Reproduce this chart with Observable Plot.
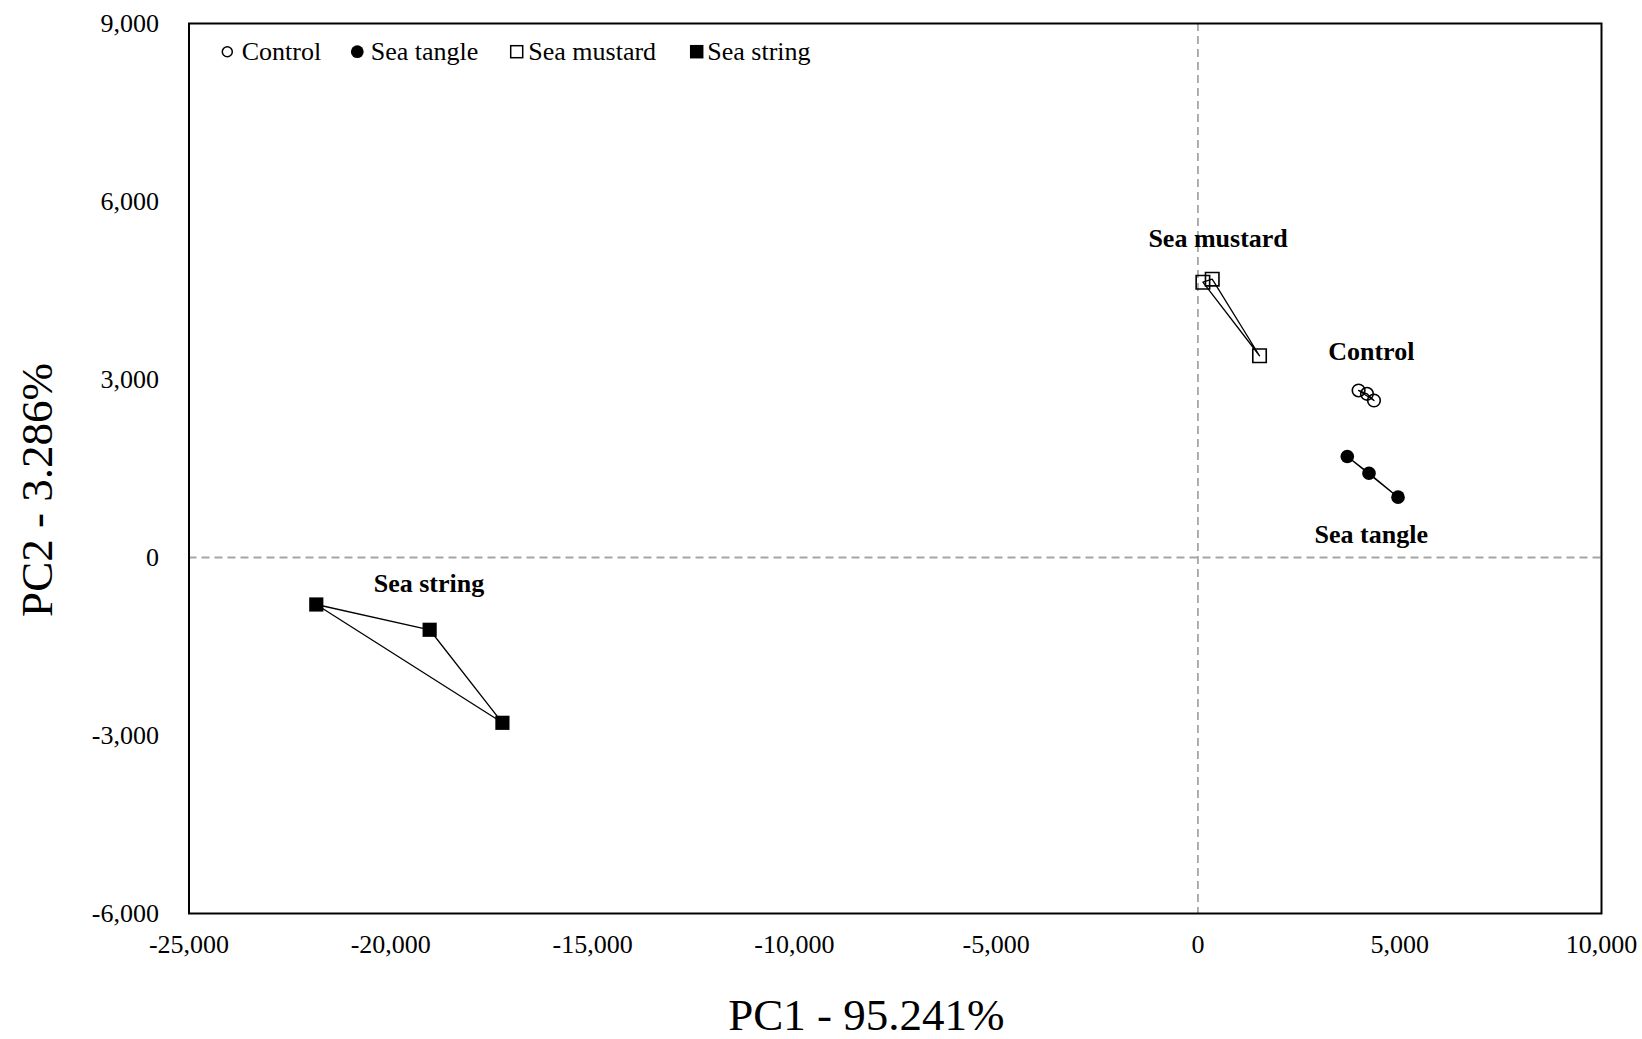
<!DOCTYPE html>
<html><head><meta charset="utf-8">
<script src="https://cdn.jsdelivr.net/npm/d3@7"></script>
<script src="https://cdn.jsdelivr.net/npm/@observablehq/plot@0.6"></script>
<style>
body{margin:0;background:#fff;}
#wrap{width:1642px;height:1039px;}
</style></head>
<body><div id="wrap"></div>
<script>
const groups = ["Control", "Sea tangle", "Sea mustard", "Sea string"];
const controlX = [3981, 4189, 4362];
const controlY = [2815, 2759, 2646];
const tangleX = [3701, 4239, 4958];
const tangleY = [1703, 1421, 1017];
const mustardX = [123, 354, 1526];
const mustardY = [4640, 4691, 3400];
const stringX = [-21846, -19037, -17234];
const stringY = [-792, -1218, -2786];
const labelX = [4296, 4296, 500, -19054];
const labelY = [3477, 388, 5377, -440];
const xTicks = [-25000, -20000, -15000, -10000, -5000, 0, 5000, 10000];
const xTickLabels = ["-25,000", "-20,000", "-15,000", "-10,000", "-5,000", "0", "5,000", "10,000"];
const yTicks = [-6000, -3000, 0, 3000, 6000, 9000];
const yTickLabels = ["-6,000", "-3,000", "0", "3,000", "6,000", "9,000"];
const xTitle = "PC1 - 95.241%";
const yTitle = "PC2 - 3.286%";

const series = [
  {name: groups[0], xs: controlX, ys: controlY, symbol: "circle", filled: false},
  {name: groups[1], xs: tangleX, ys: tangleY, symbol: "circle", filled: true},
  {name: groups[2], xs: mustardX, ys: mustardY, symbol: "square", filled: false},
  {name: groups[3], xs: stringX, ys: stringY, symbol: "square", filled: true}
];
const points = series.flatMap(s => s.xs.map((x, i) => ({group: s.name, x, y: s.ys[i]})));

const font = "'Liberation Serif', 'Times New Roman', serif";

const dotMarks = series.map(s => Plot.dot(points.filter(p => p.group === s.name), {
  x: "x", y: "y", symbol: s.symbol,
  r: s.symbol === "square" ? (s.filled ? 8.0 : 7.6) : (s.filled ? 6.8 : 6.3),
  fill: s.filled ? "black" : "none",
  stroke: "black", strokeWidth: s.filled ? 0 : 1.6
}));

const chart = Plot.plot({
  width: 1642, height: 1039,
  marginLeft: 188.5, marginRight: 41, marginTop: 23, marginBottom: 126,
  style: {fontFamily: font, fontSize: "26px", color: "black", background: "white"},
  x: {domain: [-25000, 10000]},
  y: {domain: [-6000, 9000]},
  marks: [
    Plot.ruleX([0], {stroke: "#a6a6a6", strokeWidth: 1.8, strokeDasharray: "8,5"}),
    Plot.ruleY([0], {stroke: "#a6a6a6", strokeWidth: 1.8, strokeDasharray: "8,5"}),
    Plot.axisX(xTicks, {tickSize: 0, tickPadding: 21, fontSize: 26, label: null,
      tickFormat: d => xTickLabels[xTicks.indexOf(d)]}),
    Plot.axisY(yTicks, {tickSize: 0, tickPadding: 30, fontSize: 26, label: null,
      tickFormat: d => yTickLabels[yTicks.indexOf(d)]}),
    Plot.line(points, {x: "x", y: "y", z: "group", curve: "linear-closed", stroke: "black", strokeWidth: 1.3}),
    ...dotMarks,
    Plot.text(groups, {x: (d, i) => labelX[i], y: (d, i) => labelY[i], text: d => d,
      fontWeight: "bold", fontSize: 26, lineAnchor: "middle", fill: "black"}),
    Plot.text([xTitle], {frameAnchor: "bottom", text: d => d, dx: -29, dy: 102, fontSize: 45, lineAnchor: "middle", fill: "black"}),
    Plot.frame({stroke: "black", strokeWidth: 2})
  ]
});

document.getElementById("wrap").appendChild(chart);

const svg = d3.select(chart);

// y-axis title
svg.append("text")
  .attr("font-family", font).attr("font-size", 45).attr("fill", "black")
  .attr("text-anchor", "middle")
  .attr("transform", "translate(37.5,490) rotate(-90)")
  .attr("dy", "0.32em")
  .text(yTitle);

// legend inside the frame, top-left
const lg = svg.append("g").attr("font-family", font).attr("font-size", 26).attr("fill", "black").attr("text-anchor", "start");
const legendItems = [
  {cx: 227.3, tx: 241.7, kind: "circle", filled: false, size: 11.5},
  {cx: 357.3, tx: 370.7, kind: "circle", filled: true, size: 12.8},
  {cx: 516.7, tx: 528.3, kind: "square", filled: false, size: 13.5},
  {cx: 696.7, tx: 707.3, kind: "square", filled: true, size: 13.5}
];
const legendCy = 51.7, legendBase = 59.5;
legendItems.forEach((it, i) => {
  if (it.kind === "circle") {
    lg.append("circle").attr("cx", it.cx).attr("cy", legendCy).attr("r", it.filled ? it.size / 2 : (it.size - 1.5) / 2)
      .attr("fill", it.filled ? "black" : "none").attr("stroke", it.filled ? "none" : "black").attr("stroke-width", 1.5);
  } else {
    const s = it.filled ? it.size : it.size - 1.5;
    lg.append("rect").attr("x", it.cx - s / 2).attr("y", legendCy - s / 2).attr("width", s).attr("height", s)
      .attr("fill", it.filled ? "black" : "none").attr("stroke", it.filled ? "none" : "black").attr("stroke-width", 1.5);
  }
  lg.append("text").attr("x", it.tx).attr("y", legendBase).attr("text-anchor", "start").text(groups[i]);
});
</script>
</body></html>
